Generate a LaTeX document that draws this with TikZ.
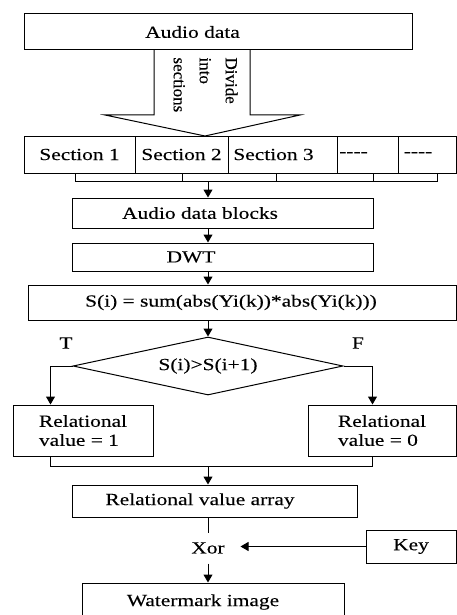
\documentclass[tikz,border=0pt]{standalone}
\usepackage{fontspec}
\setmainfont{Liberation Serif}[FakeStretch=1.26, FakeBold=0.2]
\newfontfamily\upfont{Liberation Serif}[FakeBold=0.2]
\usetikzlibrary{arrows.meta,shapes.geometric}

\begin{document}
\begin{tikzpicture}[
        x=1pt, y=-1pt,
        line width=1pt,
        font=\fontsize{17}{19}\selectfont,
        box/.style={draw, rectangle, inner sep=0pt},
        pad right/.style={execute at end node={\hspace*{#1}}},
        flow/.style={-{Triangle[length=8pt,width=9pt]}},
        test node/.style={draw, diamond, inner sep=0pt, aspect=4.66,
                minimum width=270pt, minimum height=58pt},
    ]
    \useasboundingbox (0,0) rectangle (456,615);
    \newcommand*{\SpineX}{208}

    \node[box, pad right=51pt, minimum width=388pt, minimum height=36pt] (audio) at (218,32) {Audio data};

    % block arrow, audio data into sections
    \draw (154,50) -- (154,115) -- (105,115) -- (205,136)
        -- (300,115) -- (250,115) -- (250,50);
    \node[rotate=-90, anchor=north west, align=left, inner sep=0pt,
        font=\upfont\fontsize{17}{26}\selectfont] (divide) at (238,57)
        {Divide\\into\\sections};

    % the row of sections, with the ticks below them
    \foreach \l/\r/\p/\d/\t [count=\i] in {24/135/0/-4.5/Section 1,
            135/228/0/0.5/Section 2, 228/337/18/-6.5/Section 3,
            337/398/28/5.5/{-}{-}{-}{-}, 398/456/18/10/{-}{-}{-}{-}} {
            \node[box, pad right=\p pt, minimum width={(\r-\l)*1pt}, minimum height=37pt]
                (sec\i) at ({(\l+\r)/2},154.5) {\t};
            \coordinate (tick\i) at ([xshift=\d pt, yshift=-8pt]sec\i.south);
            \draw (tick\i |- sec\i.south) -- (tick\i);
        }
    \draw (tick1) -- (tick5);
    \coordinate (join) at (\SpineX,181);

    \node[box, pad right=45pt, minimum width=301pt, minimum height=30pt] (blocks) at (222.5,213) {Audio data blocks};
    \node[box, pad right=63pt, minimum width=301pt, minimum height=28pt] (dwt) at (222.5,257) {DWT};
    \node[box, pad right=22pt, minimum width=428pt, minimum height=35pt] (sum) at (242,302.5)
        {S(i) = sum(abs(Yi(k))*abs(Yi(k)))};
    \node[test node] (test) at (\SpineX,366) {S(i)>S(i+1)};
    \node (true) at (66,343) {T};
    \node (false) at (358,343) {F};

    \draw[flow] (join) -- (join |- blocks.north);
    \draw[flow] (blocks.south -| join) -- (dwt.north -| join);
    \draw[flow] (dwt.south -| join) -- (sum.north -| join);
    \draw[flow] (sum.south -| test.north) -- (test.north);

    % the two outcomes
    \node[box, minimum width=140pt, minimum height=51pt, align=left] (rel1) at (83,430.5)
        {Relational\\value = 1};
    \node[box, minimum width=148pt, minimum height=51pt, align=left] (rel0) at (382,430.5)
        {Relational\\value = 0};
    \draw[flow] (test.west) -| ([xshift=38pt]rel1.north west);
    \draw[flow] (test.east) -| ([xshift=65pt]rel0.north west);
    \draw ([xshift=38pt]rel1.south west) -- ++(0,10) -| ([xshift=65pt]rel0.south west);
    \coordinate (merge) at (\SpineX,466);

    \node[box, pad right=29pt, minimum width=285pt, minimum height=32pt] (array) at (214.5,501) {Relational value array};
    \node[inner sep=0pt, minimum width=64pt, minimum height=30pt] (xor) at (\SpineX,548) {Xor};
    \node[box, minimum width=90pt, minimum height=33pt] (key) at (411,546.5) {Key};
    \node[box, pad right=20pt, minimum width=262pt, minimum height=38pt] (mark) at (213,602) {Watermark image};

    \draw[flow] (merge) -- (merge |- array.north);
    \draw (array.south -| xor.north) -- (xor.north);
    \draw[flow] (key.west) -- (key.west -| xor.east);
    \draw[flow] (xor.south) -- (xor.south |- mark.north);
\end{tikzpicture}
\end{document}
